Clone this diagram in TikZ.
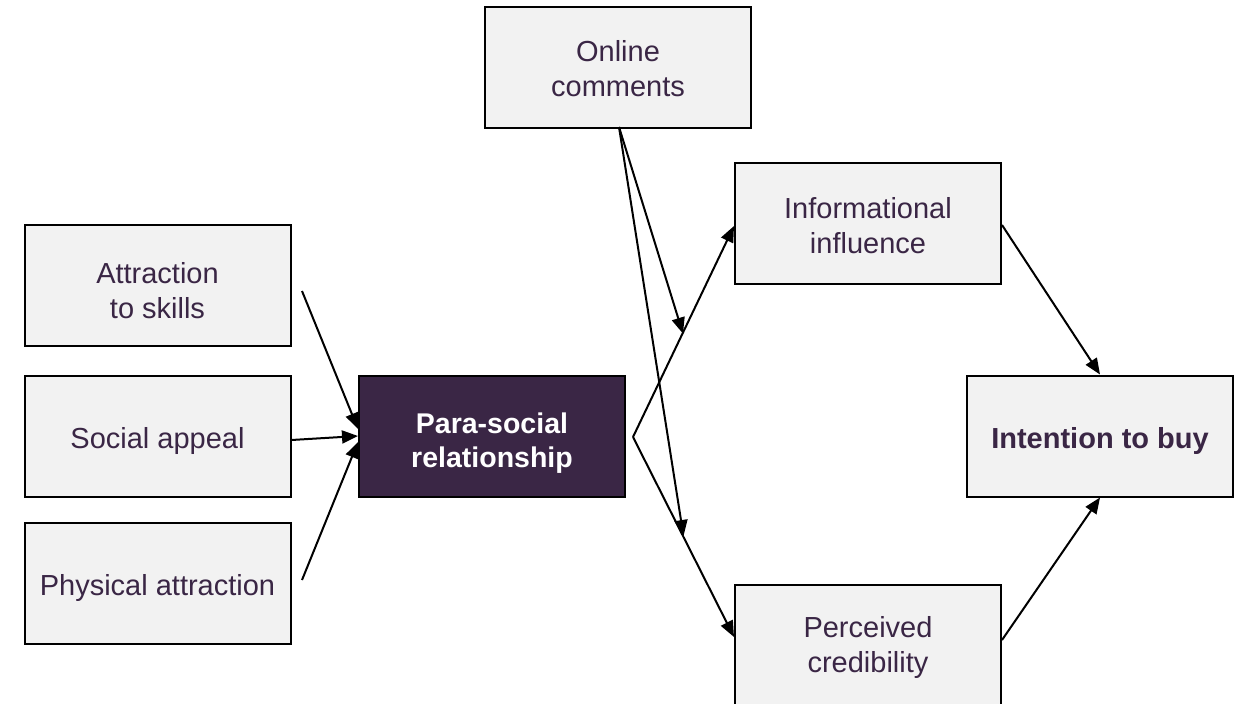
\documentclass[tikz,border=0pt]{standalone}
\usepackage{fontspec}
\setmainfont{Liberation Sans}
\usetikzlibrary{arrows.meta,calc}
\definecolor{txt}{HTML}{3A2645}
\definecolor{boxfill}{HTML}{F2F2F2}
\definecolor{dark}{HTML}{3A2645}
\begin{document}
\begin{tikzpicture}[x=1pt,y=-1pt,
  box/.style={draw=black,line width=2pt,fill=boxfill,minimum width=266pt,minimum height=121pt,
    align=center,text=txt,font=\fontsize{29}{34.5}\selectfont,inner sep=0pt,
    text height=29pt,text depth=4pt},
  lbl/.style={align=center,text=txt,font=\fontsize{29}{34.5}\selectfont,inner sep=0pt},
  ml/.style 2 args={label={[lbl,yshift=#2]center:{#1}}},
  mlw/.style 2 args={label={[lbl,yshift=#2,text=white,font=\fontsize{28.5}{34.5}\selectfont\bfseries]center:{#1}}},
  darkbox/.style={box,fill=dark},
  conn/.style={line width=2pt,-{Triangle[length=16pt,width=13pt]}}]
\path[use as bounding box] (0,0) rectangle (1237,704);
\begin{scope}
\clip (0,0) rectangle (1237,704);
\node[box,ml={Attraction\\to skills}{-5pt}] (skills) at (157.5,285.5) {};
\node[box] (social) at (157.5,436) {Social appeal};
\node[box] (phys) at (157.5,583) {Physical attraction};
\node[darkbox,mlw={Para-social\\relationship}{-7pt}] (psr) at (492,436) {};
\node[box,ml={Online\\comments}{-1.5pt}] (online) at (618,67) {};
\node[box,ml={Informational\\influence}{-2.5pt}] (info) at (868,223) {};
\node[box,ml={Perceived\\credibility}{-2.5pt}] (cred) at (868,645) {};
\node[box,font=\fontsize{29}{34.5}\selectfont\bfseries] (intent) at (1100,436) {Intention to buy};
\end{scope}
\coordinate (s1) at (302,291);
\coordinate (s3) at (302,580);
\coordinate (split) at (633,437);
\coordinate (oc) at (619,127);
\coordinate (m1) at ($(split)!0.49!(735,226)$);
\coordinate (m2) at ($(split)!0.495!(735,637)$);
\draw[conn] (s1) -- ($(psr.west)+(0,-7)$);
\draw[conn] (social.east |- 0,440) -- (psr.west);
\draw[conn] (s3) -- ($(psr.west)+(0,6)$);
\draw[conn] (split) -- (info.west |- 0,226);
\draw[conn] (split) -- (cred.west |- 0,637);
\draw[conn] (oc) -- (m1);
\draw[conn] (oc) -- (m2);
\draw[conn] (info.east |- 0,225) -- (intent.north);
\draw[conn] (cred.east |- 0,640) -- (intent.south);
\end{tikzpicture}
\end{document}
